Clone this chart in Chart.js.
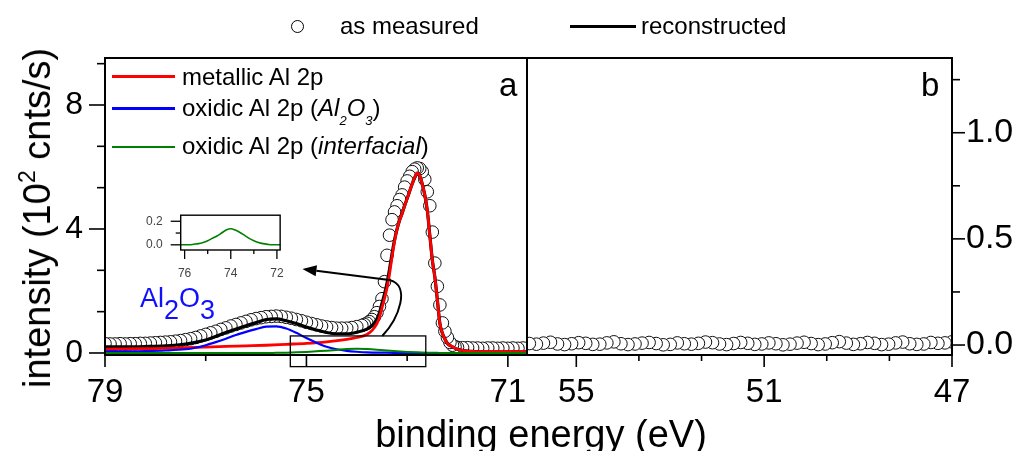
<!DOCTYPE html>
<html><head><meta charset="utf-8">
<script src="https://cdn.jsdelivr.net/npm/chart.js@4.4.0/dist/chart.umd.min.js"></script>
<style>
html,body{margin:0;padding:0;background:#fff;}
#wrap{position:relative;width:1020px;height:451px;overflow:hidden;font-family:'Liberation Sans',Arial,sans-serif;color:#000;background:#fff;}
canvas{position:absolute;}
.t{position:absolute;white-space:nowrap;line-height:1;}
.ln{position:absolute;}
</style></head><body>
<div id="wrap">
<canvas id="ca" width="1020" height="451" style="left:0;top:0"></canvas>
<canvas id="cb" width="1020" height="451" style="left:0;top:0"></canvas>
<canvas id="ci" width="180" height="95" style="left:120px;top:190px"></canvas>

<div class="ln" style="left:291px;top:20px;width:11px;height:11px;border:1px solid #000;border-radius:50%;background:#fff"></div>
<div class="t" style="left:340px;top:14px;font-size:24px">as measured</div>
<div class="ln" style="left:570px;top:24.5px;width:66px;height:3px;background:#000"></div>
<div class="t" style="left:641px;top:14px;font-size:24px">reconstructed</div>

<div class="ln" style="left:112px;top:75px;width:63px;height:2.5px;background:#ff0000"></div>
<div class="t" style="left:182px;top:64.7px;font-size:24px">metallic Al 2p</div>
<div class="ln" style="left:112px;top:107px;width:63px;height:2.5px;background:#0000ff"></div>
<div class="t" style="left:182px;top:95.7px;font-size:24px">oxidic Al 2p (<i>Al<span style="font-size:13px;position:relative;top:9px">2</span>O<span style="font-size:13px;position:relative;top:9px">3</span></i>)</div>
<div class="ln" style="left:112px;top:145.5px;width:63px;height:2.5px;background:#008000"></div>
<div class="t" style="left:182px;top:133.7px;font-size:24px">oxidic Al 2p (<i>interfacial</i>)</div>

<div class="t" style="left:499px;top:68px;font-size:33px">a</div>
<div class="t" style="left:921px;top:68px;font-size:33px">b</div>

<div class="t" style="left:140px;top:285px;font-size:27px;color:#1010ff">Al<span style="position:relative;top:12px">2</span>O<span style="position:relative;top:12px">3</span></div>

<div class="t" style="left:541px;top:415px;font-size:38px;transform:translateX(-50%)">binding energy (eV)</div>
<div class="t" style="left:37px;top:218px;font-size:38px;transform:translate(-50%,-50%) rotate(-90deg)">intensity (10<span style="font-size:23px;position:relative;top:-15px">2</span> cnts/s)</div>
</div>

<script>
// ---------- panel a : measured Al 2p (binding energy eV, intensity 10^2 cnts/s) ----------
const measE = [70.6,70.7,70.8,70.9,71.0,71.1,71.2,71.3,71.4,71.5,71.6,71.7,71.8,71.9,72.0,
  72.05,72.1,72.15,72.2,72.25,72.3,72.35,72.4,72.45,72.5,72.55,72.6,72.65,72.7,72.75,72.8,72.85,72.9,72.95,
  73.0,73.05,73.1,73.15,73.2,73.25,73.3,73.35,73.4,73.45,73.5,73.55,73.6,73.65,73.7,73.75,73.8,73.85,73.9,
  74.0,74.1,74.2,74.3,74.4,74.5,74.6,74.7,74.8,74.9,75.0,75.1,75.2,75.3,75.4,75.5,75.6,75.7,75.8,75.9,
  76.0,76.1,76.2,76.3,76.4,76.5,76.6,76.7,76.8,76.9,77.0,77.1,77.2,77.3,77.4,77.5,77.6,77.7,77.8,77.9,
  78.0,78.1,78.2,78.3,78.4,78.5,78.6,78.7,78.8,78.9,79.0];
const measI = [0.15,0.16,0.15,0.16,0.15,0.16,0.15,0.16,0.16,0.15,0.16,0.16,0.17,0.17,0.18,
  0.20,0.25,0.34,0.50,0.70,0.97,1.55,2.15,2.90,3.90,4.75,5.20,5.60,5.85,5.95,5.97,5.93,5.85,5.70,
  5.55,5.35,5.10,4.95,4.75,4.55,4.30,3.80,3.15,2.30,1.75,1.50,1.30,1.17,1.08,1.01,0.96,0.92,0.89,
  0.85,0.82,0.80,0.80,0.80,0.82,0.84,0.87,0.91,0.95,0.99,1.04,1.08,1.12,1.15,1.18,1.19,1.18,1.17,1.14,
  1.11,1.07,1.02,0.97,0.92,0.87,0.81,0.76,0.70,0.65,0.60,0.55,0.50,0.46,0.43,0.40,0.38,0.36,0.35,0.34,
  0.33,0.32,0.31,0.31,0.30,0.30,0.29,0.30,0.29,0.29,0.30];

// reconstructed (sum of components)
const fitE = [70.6,71.0,71.4,71.8,72.0,72.1,72.2,72.25,72.3,72.35,72.4,72.45,72.5,72.55,72.6,72.65,72.7,72.75,72.8,
  72.85,72.9,72.95,73.0,73.05,73.1,73.15,73.2,73.25,73.3,73.35,73.4,73.45,73.5,73.55,73.6,73.7,73.8,
  74.0,74.2,74.4,74.6,74.8,75.0,75.2,75.4,75.6,75.8,76.0,76.2,76.6,77.0,77.4,77.8,78.2,78.6,79.0];
const fitI = [0.04,0.04,0.04,0.06,0.12,0.20,0.31,0.45,0.64,0.95,1.71,2.45,3.00,3.80,4.60,5.10,5.45,5.72,5.80,
  5.66,5.45,5.22,4.98,4.75,4.50,4.28,4.00,3.65,3.20,2.70,2.25,1.90,1.60,1.30,1.10,0.88,0.77,
  0.67,0.62,0.62,0.66,0.74,0.84,0.95,1.04,1.10,1.08,0.98,0.88,0.66,0.42,0.29,0.23,0.21,0.20,0.20];

// metallic Al 2p component
const metalE = [70.6,71.0,71.4,71.8,72.0,72.1,72.2,72.25,72.3,72.35,72.4,72.45,72.5,72.55,72.6,72.65,72.7,72.75,72.8,
  72.85,72.9,72.95,73.0,73.05,73.1,73.15,73.2,73.25,73.3,73.35,73.4,73.45,73.5,73.55,73.6,73.7,73.8,
  74.0,74.2,74.6,75.0,75.4,75.8,76.2,76.6,77.0,77.4,77.8,78.2,78.6,79.0];
const metalI = [0.04,0.04,0.04,0.06,0.12,0.20,0.31,0.45,0.64,0.95,1.71,2.45,3.00,3.80,4.60,5.10,5.45,5.72,5.80,
  5.66,5.45,5.22,4.98,4.75,4.50,4.28,4.00,3.60,3.10,2.55,2.10,1.75,1.45,1.15,0.95,0.72,0.60,
  0.50,0.44,0.36,0.31,0.28,0.25,0.23,0.21,0.19,0.17,0.15,0.14,0.13,0.12];

// oxidic Al 2p (Al2O3) component
const oxideE = [70.6,73.0,73.4,73.8,74.0,74.2,74.4,74.6,74.8,75.0,75.2,75.4,75.6,75.8,76.0,76.2,76.4,76.6,76.8,77.0,77.2,77.4,77.8,78.2,78.6,79.0];
const oxideI = [0.00,0.00,0.01,0.02,0.04,0.07,0.12,0.20,0.33,0.48,0.65,0.79,0.86,0.85,0.77,0.68,0.58,0.46,0.35,0.25,0.17,0.12,0.08,0.06,0.05,0.05];

// oxidic Al 2p (interfacial) component
const interE = [70.6,72.2,72.4,72.6,72.8,73.0,73.2,73.4,73.6,73.8,74.0,74.2,74.4,74.6,74.8,75.0,75.2,75.4,75.6,75.8,79.0];
const interI = [0.00,0.00,0.004,0.01,0.02,0.035,0.055,0.08,0.105,0.125,0.136,0.125,0.10,0.075,0.055,0.035,0.02,0.01,0.005,0.00,0.00];

// ---------- panel b : measured (binding energy eV) ----------
const measBE = [47.0,47.15,47.3,47.45,47.6,47.75,47.9,48.05,48.2,48.35,48.5,48.65,48.8,48.95,49.1,49.25,49.4,49.55,49.7,49.85,
  50.0,50.15,50.3,50.45,50.6,50.75,50.9,51.05,51.2,51.35,51.5,51.65,51.8,51.95,52.1,52.25,52.4,52.55,52.7,52.85,
  53.0,53.15,53.3,53.45,53.6,53.75,53.9,54.05,54.2,54.35,54.5,54.65,54.8,54.95,55.1,55.25,55.4,55.55,55.7,55.85,56.0];
const measBI = [0.015,0.010,0.008,0.012,0.005,0.003,0.006,0.014,0.010,0.004,
  0.002,0.008,0.012,0.006,0.003,0.009,0.016,0.011,0.005,0.002,
  0.007,0.013,0.009,0.004,0.001,0.006,0.010,0.005,0.003,0.008,
  0.012,0.007,0.002,0.005,0.011,0.014,0.008,0.004,0.006,0.010,
  0.003,0.001,0.007,0.012,0.009,0.005,0.002,0.006,0.015,0.010,
  0.004,0.003,0.008,0.011,0.006,0.002,0.005,0.013,0.009,0.004,0.007];

// ---------- ticks ----------
const aXMajor = [79, 75, 71], aXMinor = [77, 73];
const aYMajor = [0, 4, 8], aYMinor = [1.333, 2.667, 5.333, 6.667, 9.333];
const bXMajor = [55, 51, 47], bXMinor = [53.667, 52.333, 49.667, 48.333];
const bYMajor = [0, 0.5, 1.0], bYMinor = [0.25, 0.75, 1.25];
const iXMajor = [76, 74, 72], iXMinor = [75, 73];
const iYMajor = [0, 0.2], iYMinor = [0.1];

const FAM = "'Liberation Sans', Arial, sans-serif";
const pts = (xs, ys) => xs.map((x, i) => ({x: x, y: ys[i]}));

const frameTicks = {
  id: 'frameTicks',
  afterDraw(chart, args, opts) {
    const ctx = chart.ctx, a = chart.chartArea;
    ctx.save();
    ctx.strokeStyle = '#000';
    ctx.lineWidth = opts.frameWidth;
    ctx.strokeRect(a.left, a.top, a.right - a.left, a.bottom - a.top);
    ctx.lineWidth = opts.tickWidth;
    opts.sets.forEach(t => {
      const s = chart.scales[t.scale];
      t.values.forEach(v => {
        const p = s.getPixelForValue(v);
        ctx.beginPath();
        if (t.side === 'bottom') { ctx.moveTo(p, a.bottom); ctx.lineTo(p, a.bottom + t.len); }
        else if (t.side === 'left') { ctx.moveTo(a.left, p); ctx.lineTo(a.left - t.len, p); }
        else { ctx.moveTo(a.right, p); ctx.lineTo(a.right + t.len, p); }
        ctx.stroke();
      });
    });
    ctx.restore();
  }
};

// zoom box and arrow pointing to the inset (data coordinates of panel a)
const zoomBox = {e1: 75.32, e2: 72.63, i1: -0.44, i2: 0.55};
const arrowPath = {p0: [73.495, 0.548], c1: [73.158, 1.129], c2: [72.921, 2.194], p3: [73.356, 2.355], tip: [75.079, 2.71]};
const annot = {
  id: 'annot',
  afterDraw(chart) {
    const ctx = chart.ctx, X = chart.scales.x, Y = chart.scales.y;
    const P = q => [X.getPixelForValue(q[0]), Y.getPixelForValue(q[1])];
    ctx.save();
    ctx.strokeStyle = '#000';
    ctx.lineWidth = 1.3;
    const x1 = X.getPixelForValue(zoomBox.e1), x2 = X.getPixelForValue(zoomBox.e2);
    const y1 = Y.getPixelForValue(zoomBox.i1), y2 = Y.getPixelForValue(zoomBox.i2);
    ctx.strokeRect(x1, y2, x2 - x1, y1 - y2);
    const p0 = P(arrowPath.p0), c1 = P(arrowPath.c1), c2 = P(arrowPath.c2), p3 = P(arrowPath.p3), tip = P(arrowPath.tip);
    const dx = tip[0] - p3[0], dy = tip[1] - p3[1], L = Math.hypot(dx, dy);
    const ux = dx / L, uy = dy / L;
    const base = [tip[0] - ux * 14, tip[1] - uy * 14];
    ctx.lineWidth = 2;
    ctx.beginPath();
    ctx.moveTo(p0[0], p0[1]);
    ctx.bezierCurveTo(c1[0], c1[1], c2[0], c2[1], p3[0], p3[1]);
    ctx.lineTo(base[0], base[1]);
    ctx.stroke();
    ctx.fillStyle = '#000';
    ctx.beginPath();
    ctx.moveTo(tip[0], tip[1]);
    ctx.lineTo(base[0] - uy * 5.5, base[1] + ux * 5.5);
    ctx.lineTo(base[0] + uy * 5.5, base[1] - ux * 5.5);
    ctx.closePath();
    ctx.fill();
    ctx.restore();
  }
};

const common = {responsive: false, animation: false, events: [], maintainAspectRatio: false};

// panel a
new Chart(document.getElementById('ca'), {
  type: 'line',
  data: {datasets: [
    {label: 'oxidic Al 2p (interfacial)', data: pts(interE, interI), borderColor: '#008000', borderWidth: 2, pointRadius: 0, cubicInterpolationMode: 'monotone', order: 0, clip: 0},
    {label: 'oxidic Al 2p (Al2O3)', data: pts(oxideE, oxideI), borderColor: '#0000ff', borderWidth: 2.2, pointRadius: 0, cubicInterpolationMode: 'monotone', order: 1, clip: 0},
    {label: 'metallic Al 2p', data: pts(metalE, metalI), borderColor: '#ff0000', borderWidth: 2.8, pointRadius: 0, cubicInterpolationMode: 'monotone', order: 2, clip: 0},
    {label: 'reconstructed', data: pts(fitE, fitI), borderColor: '#000', borderWidth: 3.2, pointRadius: 0, cubicInterpolationMode: 'monotone', order: 3, clip: 0},
    {label: 'as measured', data: pts(measE, measI), showLine: false, pointRadius: 6.3, pointBorderWidth: 1, pointBorderColor: '#111', pointBackgroundColor: '#fff', order: 5, clip: 0}
  ]},
  options: Object.assign({}, common, {
    layout: {padding: {left: 0, top: 58, right: 493, bottom: 0}},
    plugins: {legend: {display: false}, tooltip: {enabled: false},
      frameTicks: {frameWidth: 2, tickWidth: 1.6, sets: [
        {scale: 'x', side: 'bottom', values: aXMajor, len: 12},
        {scale: 'x', side: 'bottom', values: aXMinor, len: 6},
        {scale: 'y', side: 'left', values: aYMajor, len: 16},
        {scale: 'y', side: 'left', values: aYMinor, len: 8}]}},
    scales: {
      x: {type: 'linear', reverse: true, min: 70.62, max: 79.0,
        afterBuildTicks: s => { s.ticks = aXMajor.map(v => ({value: v})); },
        afterFit: s => { s.height = 96; },
        grid: {display: false, drawTicks: false}, border: {display: false},
        ticks: {padding: 18, color: '#000', font: {family: FAM, size: 33}, maxRotation: 0, autoSkip: false, callback: v => String(v)}},
      y: {type: 'linear', min: -0.065, max: 9.516,
        afterBuildTicks: s => { s.ticks = aYMajor.map(v => ({value: v})); },
        afterFit: s => { s.width = 105; },
        grid: {display: false, drawTicks: false}, border: {display: false},
        ticks: {padding: 22, color: '#000', font: {family: FAM, size: 32}, autoSkip: false, callback: v => String(v)}}
    }
  }),
  plugins: [frameTicks, annot]
});

// panel b
new Chart(document.getElementById('cb'), {
  type: 'line',
  data: {datasets: [
    {label: 'as measured', data: pts(measBE, measBI), showLine: false, pointRadius: 6.3, pointBorderWidth: 1, pointBorderColor: '#111', pointBackgroundColor: '#fff', clip: 0}
  ]},
  options: Object.assign({}, common, {
    layout: {padding: {left: 527, top: 58, right: 0, bottom: 0}},
    plugins: {legend: {display: false}, tooltip: {enabled: false},
      frameTicks: {frameWidth: 2, tickWidth: 1.6, sets: [
        {scale: 'x', side: 'bottom', values: bXMajor, len: 12},
        {scale: 'x', side: 'bottom', values: bXMinor, len: 6},
        {scale: 'y', side: 'right', values: bYMajor, len: 13},
        {scale: 'y', side: 'right', values: bYMinor, len: 8}]}},
    scales: {
      x: {type: 'linear', reverse: true, min: 47.0, max: 56.05,
        afterBuildTicks: s => { s.ticks = bXMajor.map(v => ({value: v})); },
        afterFit: s => { s.height = 96; },
        grid: {display: false, drawTicks: false}, border: {display: false},
        ticks: {padding: 18, color: '#000', font: {family: FAM, size: 33}, maxRotation: 0, autoSkip: false, callback: v => String(v)}},
      y: {type: 'linear', position: 'right', min: -0.047, max: 1.352,
        afterBuildTicks: s => { s.ticks = bYMajor.map(v => ({value: v})); },
        afterFit: s => { s.width = 68; },
        grid: {display: false, drawTicks: false}, border: {display: false},
        ticks: {padding: 14, color: '#000', font: {family: FAM, size: 34}, autoSkip: false, callback: v => v.toFixed(1)}}
    }
  }),
  plugins: [frameTicks]
});

// inset: interfacial component
new Chart(document.getElementById('ci'), {
  type: 'line',
  data: {datasets: [
    {label: 'interfacial', data: pts(interE, interI), borderColor: '#008000', borderWidth: 1.6, pointRadius: 0, cubicInterpolationMode: 'monotone', clip: 0}
  ]},
  options: Object.assign({}, common, {
    layout: {padding: {left: 0, top: 10.7, right: 12.7, bottom: 0}},
    plugins: {legend: {display: false}, tooltip: {enabled: false},
      frameTicks: {frameWidth: 1.4, tickWidth: 1.3, sets: [
        {scale: 'x', side: 'bottom', values: iXMajor, len: 9},
        {scale: 'x', side: 'bottom', values: iXMinor, len: 4},
        {scale: 'y', side: 'left', values: iYMajor, len: 10},
        {scale: 'y', side: 'left', values: iYMinor, len: 5}]}},
    scales: {
      x: {type: 'linear', reverse: true, min: 71.86, max: 76.17,
        afterBuildTicks: s => { s.ticks = iXMajor.map(v => ({value: v})); },
        afterFit: s => { s.height = 35; },
        grid: {display: false, drawTicks: false}, border: {display: false},
        ticks: {padding: 16, color: '#444', font: {family: FAM, size: 12}, maxRotation: 0, autoSkip: false, callback: v => String(v)}},
      y: {type: 'linear', min: -0.044, max: 0.2515,
        afterBuildTicks: s => { s.ticks = iYMajor.map(v => ({value: v})); },
        afterFit: s => { s.width = 60.7; },
        grid: {display: false, drawTicks: false}, border: {display: false},
        ticks: {padding: 18, color: '#444', font: {family: FAM, size: 12}, autoSkip: false, callback: v => v.toFixed(1)}}
    }
  }),
  plugins: [frameTicks]
});
</script>
</body></html>
